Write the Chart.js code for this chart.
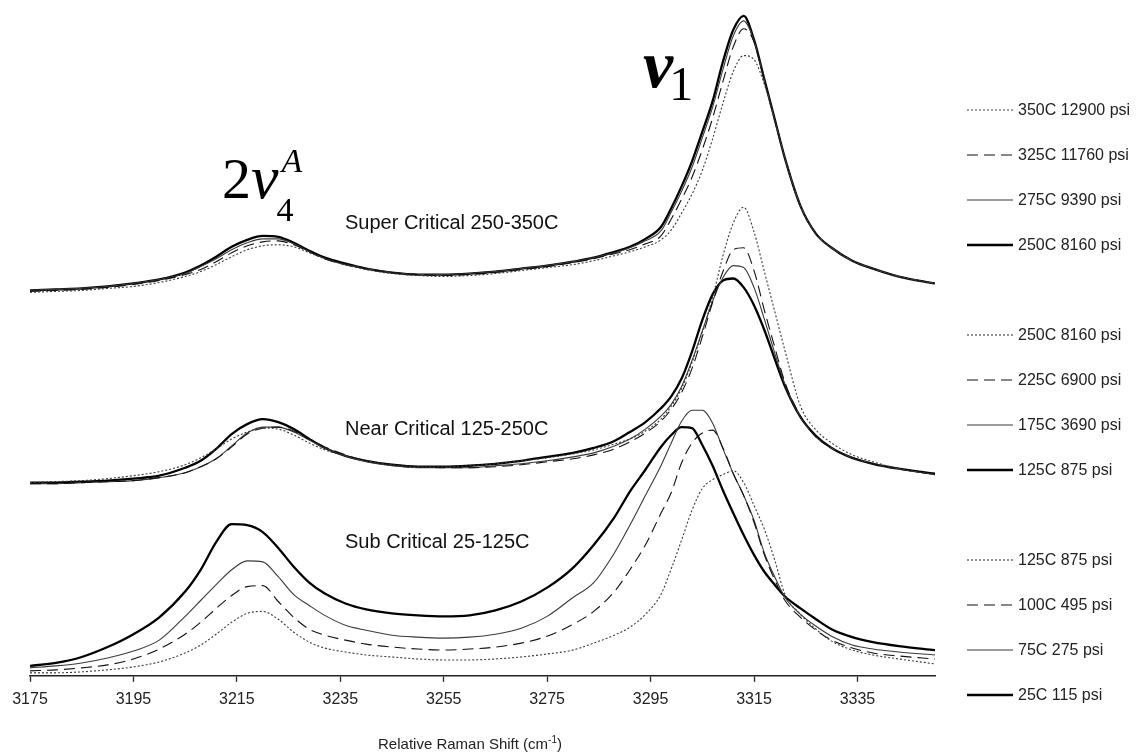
<!DOCTYPE html>
<html>
<head>
<meta charset="utf-8">
<script src="https://cdn.jsdelivr.net/npm/chart.js@4.4.1/dist/chart.umd.min.js"></script>
<style>
  html, body { margin: 0; padding: 0; background: #fff; }
  #wrap { width: 1140px; height: 754px; position: relative; }
</style>
</head>
<body>
<div id="wrap"><canvas id="c" width="1140" height="754"></canvas></div>
<script>
// Raman shift sampling points (cm-1)
const ramanShift = [3175,3180,3185,3190,3195,3200,3205,3208,3211,3214,3217,3220,3223,3226,3229,3232,3236,3240,3245,3250,
                    3255,3260,3265,3270,3275,3280,3284,3288,3291,3294,3297,3299,3301,3303,3305,3307,3309,3311,3313,3315,
                    3317,3319,3321,3324,3327,3330,3334,3338,3343,3350];

// Tick values on the shift axis
const shiftTicks = [3175,3195,3215,3235,3255,3275,3295,3315,3335];

// Stacked intensities (a.u.) — super critical spectra
const super350 = [387,388,389,391,393,397,403,408,415,423,430,434,435,433,427,421,415,410,406,404,
                  403,404,406,409,412,415,419,424,428,433,440,450,467,486,510,542,578,610,626,622,
                  597,561,522,474,446,432,419,411,403,396];
const super325 = [388,389,390,392,395,399,405,410,418,427,434,438,439,435,428,421,415,411,407,405,
                  404,405,407,410,413,417,421,426,430,436,444,461,481,503,531,563,600,635,653,640,
                  601,561,522,474,446,432,419,411,403,396];
const super275 = [389,390,391,393,396,400,406,413,421,430,437,441,441,436,428,421,415,411,407,405,
                  405,406,408,411,414,418,422,427,432,439,449,468,489,513,543,574,612,646,661,641,
                  601,561,522,474,446,432,419,411,403,396];
const super250 = [389,390,391,393,396,400,407,414,423,433,440,444,443,437,429,422,416,411,407,405,
                  405,406,408,411,414,418,422,428,433,441,453,472,494,519,549,580,620,652,666,642,
                  602,562,522,474,446,432,419,411,403,396];

// Near critical spectra
const near250 = [195,196,197,199,202,206,213,220,229,239,246,250,249,243,235,228,222,217,213,211,
                 211,212,214,217,220,224,228,234,239,247,259,272,290,316,347,382,424,457,473,448,
                 408,368,328,272,248,235,223,216,209,203];
const near225 = [194,194,195,196,197,200,205,211,219,231,244,250,251,247,239,231,223,217,213,211,
                 210,210,211,213,216,219,223,229,236,245,257,269,286,310,342,377,408,430,432,409,
                 369,332,296,262,241,230,220,214,209,203];
const near175 = [194,194,195,196,197,200,205,211,219,232,245,251,251,246,238,230,222,216,212,210,
                 210,210,212,214,217,221,225,232,239,249,262,274,292,318,348,378,402,414,412,392,
                 360,326,294,261,241,230,220,214,209,203];
const near125 = [195,195,196,197,199,202,210,217,229,244,254,259,256,249,239,230,222,217,213,211,
                 211,212,214,217,221,225,230,237,246,256,270,282,300,327,359,385,399,401,392,374,
                 349,320,292,261,242,230,220,214,209,204];

// Sub critical spectra
const sub125 = [3,3,4,6,9,14,23,31,42,54,63,65,57,44,34,28,24,21,19,17,
                16,16,17,19,22,26,33,41,49,62,82,108,137,167,189,198,203,207,195,172,
                148,117,82,62,47,35,26,21,17,12];
const sub100 = [5,6,8,11,17,27,42,54,68,81,90,91,75,59,47,41,36,32,29,27,
                26,27,29,33,40,52,65,85,107,132,164,185,215,235,245,248,230,204,182,155,
                122,97,76,59,46,36,28,23,20,17];
const sub75  = [8,10,13,18,25,36,60,76,92,107,116,115,100,82,71,61,51,46,41,39,
                38,39,42,48,60,79,94,124,152,182,212,235,257,268,268,255,229,204,182,157,
                124,100,79,62,50,40,31,27,24,21];
const sub25  = [10,13,19,29,42,59,85,107,135,153,152,145,129,110,94,83,73,67,63,61,
                60,61,66,75,89,109,132,160,186,208,231,243,251,250,233,212,187,164,142,122,
                105,92,80,68,57,47,39,34,30,26];

// Series names, grouped as in the legend
const superLabels = ['350C 12900 psi','325C 11760 psi','275C 9390 psi','250C 8160 psi'];
const nearLabels  = ['250C 8160 psi','225C 6900 psi','175C 3690 psi','125C 875 psi'];
const subLabels   = ['125C 875 psi','100C 495 psi','75C 275 psi','25C 115 psi'];
const groupTitles = ['Super Critical 250-350C','Near Critical 125-250C','Sub Critical 25-125C'];

// Line styles, one per position within a group
const lineKinds = {
  dotted: { color: '#3a3a3a', width: 1.1, dash: [2, 2] },
  dashed: { color: '#111111', width: 1.1, dash: [11, 6] },
  thin:   { color: '#3a3a3a', width: 1.1, dash: [] },
  thick:  { color: '#000000', width: 2.3, dash: [] }
};
const kindOrder = ['dotted', 'dashed', 'thin', 'thick'];

const groups = [
  { labels: superLabels, values: [super350, super325, super275, super250] },
  { labels: nearLabels,  values: [near250, near225, near175, near125] },
  { labels: subLabels,   values: [sub125, sub100, sub75, sub25] }
];

const datasets = [];
groups.forEach((g, gi) => {
  g.values.forEach((vals, i) => {
    const k = lineKinds[kindOrder[i]];
    datasets.push({
      label: g.labels[i],
      group: gi,
      kind: kindOrder[i],
      data: ramanShift.map((x, j) => ({ x: x, y: vals[j] })),
      borderColor: k.color,
      borderWidth: k.width,
      borderDash: k.dash,
      pointRadius: 0,
      fill: false,
      cubicInterpolationMode: 'monotone'
    });
  });
});

const FONT = '"Liberation Sans", Arial, sans-serif';
const SERIF = '"Liberation Serif", "Times New Roman", serif';

// Legend, peak assignments, group captions and axis title
const decorations = {
  id: 'decorations',
  afterDraw(chart) {
    const ctx = chart.ctx;
    ctx.save();

    // grouped legend on the right
    const top = 110, step = 45;
    ctx.font = '16px ' + FONT;
    ctx.textBaseline = 'middle';
    ctx.textAlign = 'left';
    chart.data.datasets.forEach((ds, idx) => {
      const row = ds.group * 5 + (idx % 4);
      const y = top + row * step;
      const k = lineKinds[ds.kind];
      ctx.beginPath();
      ctx.strokeStyle = k.color;
      ctx.lineWidth = ds.kind === 'thick' ? 2.6 : 1.1;
      ctx.setLineDash(k.dash);
      ctx.moveTo(967, y);
      ctx.lineTo(1013, y);
      ctx.stroke();
      ctx.setLineDash([]);
      ctx.fillStyle = '#222';
      ctx.fillText(ds.label, 1018, y + 1);
    });

    // group captions
    ctx.fillStyle = '#111';
    ctx.textBaseline = 'alphabetic';
    ctx.font = '20px ' + FONT;
    ctx.fillText(groupTitles[0], 345, 229);
    ctx.fillText(groupTitles[1], 345, 435);
    ctx.fillText(groupTitles[2], 345, 548);

    // ν1 band label
    ctx.fillStyle = '#000';
    ctx.font = 'italic bold 68px ' + SERIF;
    ctx.fillText('\u03BD', 643, 87);
    const nuW = ctx.measureText('\u03BD').width;
    ctx.font = '48px ' + SERIF;
    ctx.fillText('1', 643 + nuW - 4, 100);

    // 2ν4A overtone label
    ctx.font = '58px ' + SERIF;
    ctx.fillText('2', 222, 198);
    const twoW = ctx.measureText('2').width;
    ctx.font = 'italic 62px ' + SERIF;
    ctx.fillText('\u03BD', 222 + twoW, 198);
    const nu2W = ctx.measureText('\u03BD').width;
    const sx = 222 + twoW + nu2W;
    ctx.font = '34px ' + SERIF;
    ctx.fillText('4', sx - 2, 221);
    ctx.font = 'italic 34px ' + SERIF;
    ctx.fillText('A', sx + 3, 172);

    // axis title with superscript
    const main = 'Relative Raman Shift (cm';
    const sup = '-1';
    const close = ')';
    ctx.fillStyle = '#222';
    ctx.font = '15px ' + FONT;
    const w1 = ctx.measureText(main).width;
    const w3 = ctx.measureText(close).width;
    ctx.font = '10px ' + FONT;
    const w2 = ctx.measureText(sup).width;
    const cx = 470;
    const x0 = cx - (w1 + w2 + w3) / 2;
    const by = 749;
    ctx.font = '15px ' + FONT;
    ctx.fillText(main, x0, by);
    ctx.font = '10px ' + FONT;
    ctx.fillText(sup, x0 + w1, by - 6);
    ctx.font = '15px ' + FONT;
    ctx.fillText(close, x0 + w1 + w2, by);

    ctx.restore();
  }
};

new Chart(document.getElementById('c'), {
  type: 'line',
  data: { datasets: datasets },
  options: {
    responsive: false,
    animation: false,
    devicePixelRatio: 1,
    parsing: false,
    layout: { padding: { left: 30, right: 205, top: 10, bottom: 37 } },
    plugins: { legend: { display: false }, tooltip: { enabled: false } },
    scales: {
      x: {
        type: 'linear',
        min: 3175,
        max: 3350,
        afterBuildTicks(axis) { axis.ticks = shiftTicks.map(v => ({ value: v })); },
        grid: { drawOnChartArea: false, drawTicks: true, tickLength: 6, tickColor: '#222', tickWidth: 1.3 },
        border: { display: true, color: '#222', width: 1.5 },
        ticks: {
          color: '#222',
          font: { size: 16, family: FONT },
          padding: 8,
          maxRotation: 0,
          autoSkip: false,
          callback: v => String(v)
        }
      },
      y: { display: false, min: 0, max: 672 }
    }
  },
  plugins: [decorations]
});
</script>
</body>
</html>
